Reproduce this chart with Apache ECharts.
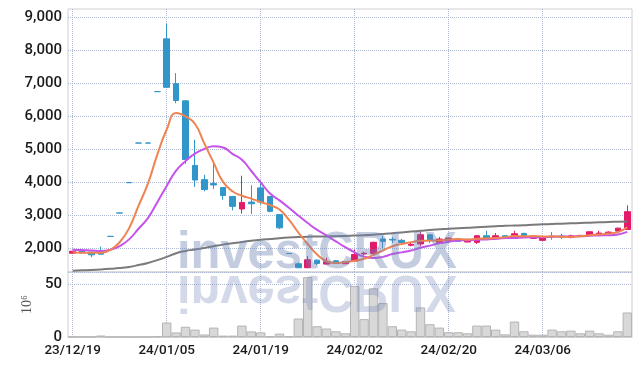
<!DOCTYPE html>
<html><head><meta charset="utf-8">
<script src="https://cdn.jsdelivr.net/npm/echarts@6/dist/echarts.min.js"></script>
<style>html,body{margin:0;padding:0;background:#fff}#c{width:642px;height:366px}</style>
</head><body><div id="c"></div>
<script>
const dates = ['23/12/19','23/12/20','23/12/21','23/12/22','23/12/26','23/12/27','23/12/28','24/01/02','24/01/03','24/01/04',
'24/01/05','24/01/08','24/01/09','24/01/10','24/01/11','24/01/12','24/01/15','24/01/16','24/01/17','24/01/18',
'24/01/19','24/01/22','24/01/23','24/01/24','24/01/25','24/01/26','24/01/29','24/01/30','24/01/31','24/02/01',
'24/02/02','24/02/05','24/02/06','24/02/07','24/02/08','24/02/13','24/02/14','24/02/15','24/02/16','24/02/19',
'24/02/20','24/02/21','24/02/22','24/02/23','24/02/26','24/02/27','24/02/28','24/02/29','24/03/04','24/03/05',
'24/03/06','24/03/07','24/03/08','24/03/11','24/03/12','24/03/13','24/03/14','24/03/15','24/03/18','24/03/19'];
const opens = [1840,1920,1870,1880,2350,3060,3980,5180,5180,6740,
8340,6980,6460,4500,4070,3950,3830,3560,3180,3390,
3820,3560,3010,1830,1520,1400,1630,1510,1610,1520,
1600,1820,1830,2270,2260,2230,2080,2120,2400,2160,
2230,2260,2180,2170,2370,2280,2370,2290,2440,2290,
2230,2360,2360,2320,2350,2380,2410,2430,2510,2560];
const closes = [1900,1850,1790,1810,2350,3060,3980,5180,5180,6740,
6870,6470,4680,4060,3770,3910,3590,3260,3380,3340,
3390,3110,2610,1830,1400,1640,1530,1580,1550,1580,
1800,1840,2170,2200,2240,2160,2110,2400,2220,2270,
2300,2200,2260,2370,2300,2370,2320,2430,2350,2320,
2320,2340,2345,2370,2380,2490,2450,2480,2600,3100];
const lows = [1830,1830,1720,1800,2350,3060,3980,5180,5180,6740,
6870,6390,4550,3850,3720,3790,3460,3140,3040,3030,
3310,3080,2575,1830,1390,1390,1480,1500,1540,1510,
1590,1770,1800,2000,2150,2100,2050,2050,2150,2150,
2220,2190,2170,2120,2290,2260,2310,2280,2340,2280,
2220,2250,2270,2290,2340,2370,2400,2420,2500,2550];
const highs = [1910,1930,1880,2040,2350,3060,3980,5180,5180,6740,
8800,7300,6480,5280,4220,4610,3830,3560,4190,3900,
4050,3570,3010,1830,1560,1750,1650,1700,1630,1600,
1950,1880,2190,2370,2330,2270,2150,2500,2410,2330,
2310,2270,2280,2380,2520,2450,2380,2520,2460,2330,
2330,2480,2430,2400,2390,2500,2520,2500,2610,3290];
const ma5 = [1860,1855,1850,1850,1940,2172,2598,3276,3950,4828,
5590,6088,5988,5764,5170,4578,4002,3718,3582,3496,
3392,3296,3166,2856,2468,2118,1802,1596,1540,1576,
1608,1670,1788,1918,2050,2122,2176,2218,2222,2228,
2256,2274,2250,2280,2286,2300,2324,2358,2354,2358,
2348,2352,2335,2339,2351,2385,2407,2434,2480,2624];
const ma10 = [1945,1935,1919,1905,1945,2056,2259,2582,2905,3384,
3881,4343,4632,4857,4999,5084,5045,4853,4673,4333,
3985,3649,3442,3219,2982,2755,2549,2381,2198,2022,
1863,1736,1692,1729,1813,1865,1923,2003,2070,2139,
2189,2225,2234,2251,2257,2278,2299,2304,2317,2322,
2324,2338,2347,2347,2355,2367,2380,2385,2410,2488];
const maLong = [1310,1320,1330,1345,1365,1390,1425,1480,1545,1630,
1727,1840,1910,1950,2000,2050,2100,2140,2180,2215,
2245,2270,2295,2315,2330,2340,2345,2350,2355,2365,
2375,2385,2400,2420,2445,2470,2495,2520,2545,2565,
2585,2600,2610,2625,2640,2655,2670,2680,2690,2705,
2715,2725,2735,2745,2755,2765,2775,2785,2795,2805];
const volumes = [0.3,0.3,0.2,1.4,0.1,0.1,0.1,0.1,0.1,0.6,
13.7,4.3,9.7,7,2.4,8.9,1.3,1.3,10.8,5.3,
4.4,0.6,3.2,0.6,17.5,56.6,10.2,8,5.4,3.5,
48.3,16.9,46.1,32.1,10.2,7,5.4,28,12.1,8.9,
4.5,4.5,3.5,10.8,10.8,7,2.5,14.6,5.4,2.2,
2.2,7,5.4,6,3.5,6,3.5,2.2,5.4,23.2];
const priceTicks = [2000,3000,4000,5000,6000,7000,8000,9000];
const volumeUnit = '10\u2076';
const watermark = 'investCRUX';

const UP = '#e3196a', DOWN = '#3196c9';
const gridLine = {show:true, lineStyle:{type:'dotted', color:'#aeb9d2', width:1}};
const labelFont = "Roboto,'Liberation Sans',sans-serif";

const chart = echarts.init(document.getElementById('c'), null, {renderer:'canvas'});
const candleData = dates.map((d,i)=>[opens[i],closes[i],lows[i],highs[i]]);
chart.setOption({
  animation:false,
  backgroundColor:'#fff',
  grid:[
    {left:68, right:10, top:9, height:263, show:true, borderColor:'#cfcfcf', borderWidth:1},
    {left:68, right:10, top:272, height:65, show:true, borderColor:'#cfcfcf', borderWidth:1}
  ],
  xAxis:[
    {type:'category', data:dates, gridIndex:0, boundaryGap:true,
     axisLine:{show:false}, axisTick:{show:false}, axisLabel:{show:false},
     splitLine:Object.assign({interval:9, alignWithLabel:true}, gridLine)},
    {type:'category', data:dates, gridIndex:1, boundaryGap:true,
     axisLine:{show:true, lineStyle:{color:'#cfcfcf'}}, axisTick:{show:false},
     axisLabel:{interval:9, color:'#1a1a1a', fontFamily:labelFont, fontWeight:500, fontSize:13.5, margin:7},
     splitLine:Object.assign({interval:9, alignWithLabel:true}, gridLine)}
  ],
  yAxis:[
    {type:'value', gridIndex:0, min:1270, max:9245,
     axisLine:{show:false}, axisTick:{show:false, customValues:priceTicks},
     axisLabel:{customValues:priceTicks, color:'#1a1a1a', fontFamily:labelFont, fontWeight:500, fontSize:15, margin:6,
       formatter:v=>v.toLocaleString('en-US')},
     splitLine:gridLine},
    {type:'value', gridIndex:1, min:0, max:61.5, interval:50,
     axisLine:{show:false}, axisTick:{show:false},
     axisLabel:{color:'#1a1a1a', fontFamily:labelFont, fontWeight:500, fontSize:15, margin:6, showMaxLabel:false},
     splitLine:gridLine,
     name:volumeUnit, nameLocation:'middle', nameRotate:90, nameGap:28,
     nameTextStyle:{fontFamily:"'Liberation Serif','DejaVu Serif',serif", fontSize:14, color:'#555'}}
  ],
  series:[
    {type:'candlestick', xAxisIndex:0, yAxisIndex:0, data:candleData, barWidth:6,
     itemStyle:{color:UP, color0:DOWN, borderColor:UP, borderColor0:DOWN, borderColorDoji:DOWN, borderWidth:1}},
    {type:'line', xAxisIndex:0, yAxisIndex:0, data:maLong, smooth:true, showSymbol:false,
     lineStyle:{color:'#7a7a7a', width:2}},
    {type:'line', xAxisIndex:0, yAxisIndex:0, data:ma10, smooth:true, showSymbol:false,
     lineStyle:{color:'#c552ea', width:2}},
    {type:'line', xAxisIndex:0, yAxisIndex:0, data:ma5, smooth:true, showSymbol:false,
     lineStyle:{color:'#ee8450', width:2}},
    {type:'bar', xAxisIndex:1, yAxisIndex:1, data:volumes, barCategoryGap:'0%',
     itemStyle:{color:'#d8d8d8', borderColor:'#b4b4b4', borderWidth:1}}
  ],
  graphic:[
    {type:'text', x:177, y:272, scaleX:0.94, z:100, silent:true,
     style:{text:watermark, x:0, y:-18, font:"bold 52px 'Liberation Sans',sans-serif", fill:'rgb(108,128,178)', opacity:0.4, textVerticalAlign:'middle'}},
    {type:'text', x:177, y:272, scaleX:0.94, scaleY:-1, z:100, silent:true,
     style:{text:watermark, x:0, y:-18, font:"bold 52px 'Liberation Sans',sans-serif", fill:'rgb(108,128,178)', opacity:0.3, textVerticalAlign:'middle'}}
  ]
});
</script></body></html>
